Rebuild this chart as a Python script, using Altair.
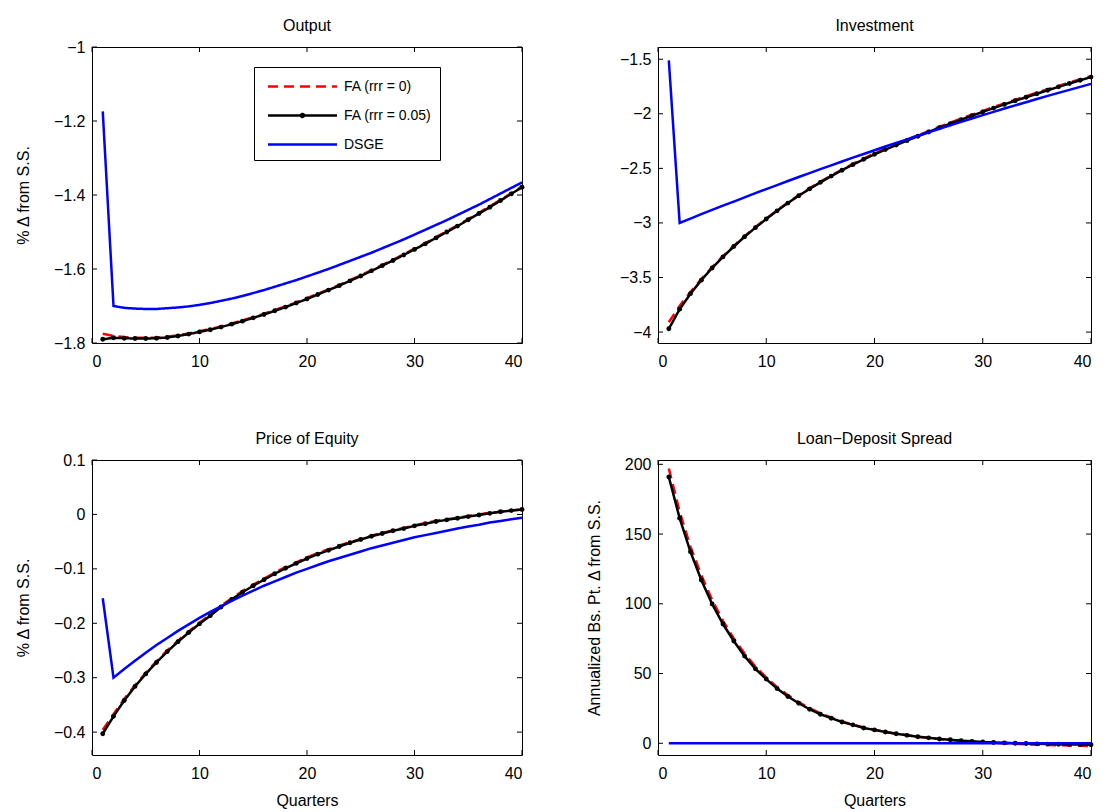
import altair as alt
import pandas as pd

quarters = list(range(1, 41))
series_names = ["FA (rrr = 0)", "FA (rrr = 0.05)", "DSGE"]
series_colors = ["#ff0000", "#000000", "#0000ff"]
x_ticks = [0, 10, 20, 30, 40]

# ---- Output ----
output_fa0 = [-1.775, -1.781, -1.784, -1.786, -1.786, -1.785, -1.783, -1.779, -1.774, -1.768,
              -1.762, -1.755, -1.747, -1.739, -1.730, -1.721, -1.711, -1.701, -1.690, -1.679,
              -1.667, -1.655, -1.643, -1.630, -1.617, -1.603, -1.589, -1.575, -1.560, -1.545,
              -1.530, -1.514, -1.498, -1.482, -1.465, -1.448, -1.431, -1.413, -1.395, -1.377]
output_fa05 = [-1.790, -1.786, -1.787, -1.788, -1.788, -1.787, -1.785, -1.781, -1.776, -1.770,
               -1.764, -1.757, -1.749, -1.741, -1.732, -1.723, -1.713, -1.703, -1.692, -1.681,
               -1.669, -1.657, -1.645, -1.632, -1.619, -1.605, -1.591, -1.577, -1.562, -1.547,
               -1.532, -1.516, -1.500, -1.484, -1.467, -1.450, -1.433, -1.415, -1.397, -1.379]
output_dsge = [-1.174, -1.700, -1.705, -1.707, -1.708, -1.708, -1.706, -1.704, -1.701, -1.697,
               -1.692, -1.686, -1.680, -1.673, -1.665, -1.657, -1.648, -1.639, -1.630, -1.620,
               -1.610, -1.600, -1.589, -1.578, -1.567, -1.556, -1.544, -1.532, -1.520, -1.507,
               -1.494, -1.481, -1.468, -1.454, -1.440, -1.426, -1.411, -1.396, -1.381, -1.366]

# ---- Investment ----
invest_fa0 = [-3.910, -3.760, -3.632, -3.514, -3.405, -3.304, -3.210, -3.121, -3.038, -2.959,
              -2.884, -2.813, -2.746, -2.683, -2.622, -2.565, -2.511, -2.459, -2.410, -2.363,
              -2.319, -2.278, -2.237, -2.197, -2.158, -2.119, -2.082, -2.045, -2.009, -1.974,
              -1.939, -1.905, -1.871, -1.839, -1.807, -1.775, -1.744, -1.714, -1.684, -1.655]
invest_fa05 = [-3.970, -3.790, -3.648, -3.524, -3.413, -3.311, -3.216, -3.127, -3.043, -2.964,
               -2.889, -2.818, -2.751, -2.688, -2.628, -2.571, -2.517, -2.466, -2.417, -2.371,
               -2.328, -2.287, -2.246, -2.206, -2.167, -2.128, -2.091, -2.054, -2.018, -1.983,
               -1.948, -1.914, -1.880, -1.848, -1.816, -1.784, -1.753, -1.723, -1.693, -1.664]
invest_dsge = [-1.510, -3.000, -2.960, -2.920, -2.881, -2.842, -2.804, -2.765, -2.727, -2.690,
               -2.653, -2.616, -2.579, -2.543, -2.507, -2.472, -2.437, -2.402, -2.368, -2.334,
               -2.300, -2.267, -2.234, -2.201, -2.169, -2.137, -2.105, -2.074, -2.043, -2.012,
               -1.982, -1.952, -1.923, -1.894, -1.865, -1.836, -1.808, -1.781, -1.753, -1.726]

# ---- Price of Equity ----
equity_fa0 = [-0.396, -0.367, -0.339, -0.314, -0.291, -0.270, -0.250, -0.232, -0.215, -0.199,
              -0.184, -0.168, -0.154, -0.141, -0.129, -0.118, -0.107, -0.097, -0.088, -0.079,
              -0.071, -0.064, -0.057, -0.051, -0.045, -0.039, -0.034, -0.029, -0.025, -0.020,
              -0.016, -0.012, -0.009, -0.006, -0.003, 0.000, 0.003, 0.005, 0.007, 0.009]
equity_fa05 = [-0.403, -0.371, -0.342, -0.316, -0.293, -0.272, -0.252, -0.234, -0.217, -0.201,
               -0.186, -0.170, -0.156, -0.143, -0.131, -0.120, -0.109, -0.099, -0.090, -0.081,
               -0.073, -0.066, -0.059, -0.052, -0.046, -0.040, -0.035, -0.030, -0.026, -0.021,
               -0.017, -0.013, -0.010, -0.007, -0.004, -0.001, 0.002, 0.005, 0.007, 0.009]
equity_dsge = [-0.154, -0.300, -0.284, -0.269, -0.254, -0.240, -0.227, -0.214, -0.202, -0.190,
               -0.179, -0.169, -0.159, -0.149, -0.140, -0.131, -0.123, -0.115, -0.107, -0.100,
               -0.093, -0.086, -0.080, -0.074, -0.068, -0.062, -0.057, -0.052, -0.047, -0.042,
               -0.038, -0.034, -0.030, -0.026, -0.022, -0.019, -0.015, -0.012, -0.009, -0.006]

# ---- Loan-Deposit Spread ----
spread_fa0 = [197.0, 166.0, 141.0, 120.5, 102.8, 87.8, 75.2, 64.3, 55.0, 47.2,
              40.3, 34.5, 29.5, 25.2, 21.5, 18.4, 15.7, 13.4, 11.4, 9.7,
              8.2, 6.9, 5.8, 4.8, 3.9, 3.1, 2.4, 1.8, 1.2, 0.7,
              0.3, -0.1, -0.4, -0.7, -1.0, -1.2, -1.4, -1.6, -1.8, -2.0]
spread_fa05 = [190.9, 161.4, 137.3, 117.1, 99.9, 85.5, 73.3, 62.5, 53.4, 46.0,
               39.2, 33.5, 28.7, 24.4, 20.8, 18.0, 15.3, 13.2, 11.0, 9.6,
               8.1, 6.8, 5.7, 4.7, 3.9, 3.1, 2.5, 1.9, 1.4, 1.0,
               0.6, 0.3, 0.0, -0.2, -0.4, -0.6, -0.7, -0.8, -0.9, -1.0]
spread_dsge = [0.0] * 40

FONT = "Liberation Sans"
FS = 16

LINE_PATH = "M-3.45,0H3.45"
DOT_LINE_PATH = "M-3.45,0H3.45M0.15,0A0.15,0.15,0,1,1,-0.15,0A0.15,0.15,0,1,1,0.15,0"


def make_panel(title, fa0, fa05, dsge, ydom, yticks, yfmt, ytitle, xtitle,
               width, height, title_offset, legend=False):
    df = pd.DataFrame({
        "q": quarters * 3,
        "v": fa0 + fa05 + dsge,
        "s": [series_names[0]] * 40 + [series_names[1]] * 40 + [series_names[2]] * 40,
    })
    xsc = alt.Scale(domain=[0, 40], nice=False, zero=False)
    ysc = alt.Scale(domain=ydom, nice=False, zero=False)
    xax = alt.Axis(values=x_ticks, format="d", title=xtitle, ticks=False, tickSize=0,
                   domain=False, grid=False, labelPadding=10, titlePadding=11,
                   labelFont=FONT, labelFontSize=FS, labelColor="black",
                   titleFont=FONT, titleFontSize=FS, titleColor="black", titleFontWeight="normal")
    yax = alt.Axis(values=yticks, format=yfmt, title=ytitle, ticks=False, tickSize=0,
                   domain=False, grid=False, labelPadding=7, titlePadding=22,
                   labelFont=FONT, labelFontSize=FS, labelColor="black",
                   titleFont=FONT, titleFontSize=FS, titleColor="black", titleFontWeight="normal")

    def X():
        return alt.X("q:Q", scale=xsc, axis=xax)

    def Y():
        return alt.Y("v:Q", scale=ysc, axis=yax)

    base = alt.Chart(df)
    leg = alt.Legend(
        title=None, orient="none", legendX=162, legendY=20,
        symbolSize=400, symbolStrokeWidth=2.5, symbolOpacity=1,
        symbolOffset=29, labelOffset=30,
        labelFont=FONT, labelFontSize=14, labelColor="black",
        strokeColor="black", fillColor="white", padding=8, rowPadding=10,
        cornerRadius=0,
    )
    dashes = [[10, 6], [1, 0], [1, 0]]
    color_scale = alt.Scale(domain=series_names, range=series_colors)
    layers = []
    for i, name in enumerate(series_names):
        sub = base.transform_filter(alt.datum.s == name)
        if legend:
            enc = dict(
                color=alt.Color("s:N", scale=color_scale, legend=leg),
                strokeDash=alt.StrokeDash("s:N", scale=alt.Scale(domain=series_names, range=dashes), legend=leg),
            )
            mk = sub.mark_line(strokeWidth=2.5)
        else:
            enc = dict(color=alt.value(series_colors[i]))
            if i == 0:
                mk = sub.mark_line(strokeWidth=2.5, strokeDash=[10, 6])
            else:
                mk = sub.mark_line(strokeWidth=2.5)
        layers.append(mk.encode(x=X(), y=Y(), **enc))
        if i == 1:
            layers.append(sub.mark_circle(size=24, color="black", opacity=1).encode(x=X(), y=Y()))

    if legend:
        # legend-only layer: its rows have no position, so nothing is drawn in the plot
        key = alt.Chart(pd.DataFrame({"q": [None] * 3, "v": [None] * 3, "s": series_names}))
        layers.append(
            key.mark_point(filled=False, strokeWidth=2.5, opacity=1).encode(
                x=X(), y=Y(),
                color=alt.Color("s:N", scale=color_scale, legend=leg),
                shape=alt.Shape("s:N", scale=alt.Scale(domain=series_names,
                                                       range=[LINE_PATH, DOT_LINE_PATH, LINE_PATH]),
                                legend=leg),
            )
        )

    xt = alt.Chart(pd.DataFrame({"q": x_ticks}))
    yt = alt.Chart(pd.DataFrame({"v": yticks}))
    tk = dict(color="black", strokeWidth=1)
    layers += [
        xt.mark_rule(**tk).encode(x=X(), y=alt.value(height), y2=alt.value(height - 5)),
        xt.mark_rule(**tk).encode(x=X(), y=alt.value(0), y2=alt.value(5)),
        yt.mark_rule(**tk).encode(y=Y(), x=alt.value(0), x2=alt.value(5)),
        yt.mark_rule(**tk).encode(y=Y(), x=alt.value(width), x2=alt.value(width - 5)),
    ]
    return alt.layer(*layers).properties(
        width=width, height=height,
        title=alt.Title(text=title, font=FONT, fontSize=FS, fontWeight="normal",
                        color="black", offset=title_offset, anchor="middle", frame="group"),
    )


p1 = make_panel("Output", output_fa0, output_fa05, output_dsge, [-1.8, -1.0],
                [-1.8, -1.6, -1.4, -1.2, -1.0], ".1~f", "% Δ from S.S.", None,
                430, 296, 5, legend=True)
p2 = make_panel("Investment", invest_fa0, invest_fa05, invest_dsge, [-4.1, -1.388],
                [-4, -3.5, -3, -2.5, -2, -1.5], ".1~f", None, None, 433, 296, 13)
p3 = make_panel("Price of Equity", equity_fa0, equity_fa05, equity_dsge, [-0.442, 0.1],
                [-0.4, -0.3, -0.2, -0.1, 0, 0.1], ".1~f", "% Δ from S.S.", "Quarters",
                430, 295, 5)
p4 = make_panel("Loan−Deposit Spread", spread_fa0, spread_fa05, spread_dsge, [-8.4, 203.1],
                [0, 50, 100, 150, 200], "d", "Annualized Bs. Pt. Δ from S.S.", "Quarters",
                433, 295, 9)

chart = alt.concat(
    p1, p2, p3, p4, columns=2, spacing={"row": 117, "column": 136}, bounds="flush"
).resolve_scale(
    color="independent", strokeDash="independent", shape="independent",
    x="independent", y="independent"
).properties(
    padding={"left": 14, "top": 17, "right": 5, "bottom": 5}, background="white"
).configure_view(
    stroke="black", strokeWidth=1
)

chart.save("out.html", embed_options={"renderer": "svg", "actions": False})
